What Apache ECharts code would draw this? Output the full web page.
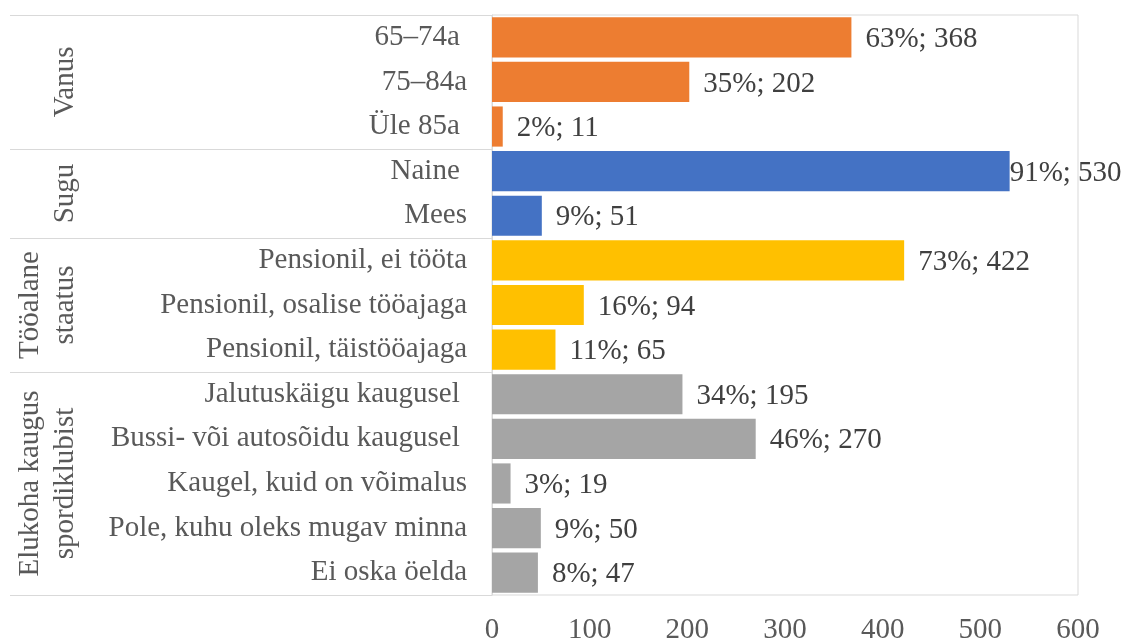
<!DOCTYPE html>
<html>
<head>
<meta charset="utf-8">
<script src="https://cdn.jsdelivr.net/npm/echarts@6/dist/echarts.min.js"></script>
<style>
  html, body { margin: 0; padding: 0; background: #ffffff; }
  #main { width: 1126px; height: 642px; }
</style>
</head>
<body>
<div id="main"></div>
<script>
// ---- Data ----
const categories = [
  '65–74a ', '75–84a', 'Üle 85a ',
  'Naine ', 'Mees',
  'Pensionil, ei tööta', 'Pensionil, osalise tööajaga', 'Pensionil, täistööajaga',
  'Jalutuskäigu kaugusel ', 'Bussi- või autosõidu kaugusel ', 'Kaugel, kuid on võimalus',
  'Pole, kuhu oleks mugav minna', 'Ei oska öelda'
];
const values   = [368, 202, 11, 530, 51, 422, 94, 65, 195, 270, 19, 50, 47];
const percents = [63, 35, 2, 91, 9, 73, 16, 11, 34, 46, 3, 9, 8];
const groupNames  = ['Vanus', 'Sugu', 'Tööalane\nstaatus', 'Elukoha kaugus\nspordiklubist'];
const groupSizes  = [3, 2, 3, 5];
const groupColors = ['#ED7D31', '#4472C4', '#FFC000', '#A5A5A5'];
const xTicks = [0, 100, 200, 300, 400, 500, 600];

// ---- Build ----
const FONT = 'Liberation Serif';
const catColors = [];
groupSizes.forEach((n, g) => { for (let i = 0; i < n; i++) catColors.push(groupColors[g]); });

const items = values.map((v, i) => {
  const it = { value: v, itemStyle: { color: catColors[i] } };
  if (i === 3) it.label = { distance: 0 };
  return it;
});

const chart = echarts.init(document.getElementById('main'), null, { renderer: 'canvas' });

const option = {
  animation: false,
  backgroundColor: '#ffffff',
  grid: {
    left: 492, right: 48, top: 15, bottom: 47,
    outerBoundsMode: 'none', containLabel: false,
    show: true, borderColor: '#d9d9d9', borderWidth: 1
  },
  xAxis: {
    type: 'value', min: xTicks[0], max: xTicks[xTicks.length - 1], interval: xTicks[1] - xTicks[0],
    axisLine: { show: false }, axisTick: { show: false }, splitLine: { show: false },
    axisLabel: { fontFamily: FONT, fontSize: 29, color: '#595959', margin: 21 }
  },
  yAxis: {
    type: 'category', inverse: true, data: categories,
    axisLine: { show: true, lineStyle: { color: '#d9d9d9', width: 1 } },
    axisTick: { show: false },
    axisLabel: { fontFamily: FONT, fontSize: 29, color: '#595959', margin: 25, padding: [4, 0, 0, 0] }
  },
  series: [{
    type: 'bar',
    data: items,
    barCategoryGap: '10%',
    label: {
      show: true, position: 'right', distance: 14, offset: [0, 2],
      fontFamily: FONT, fontSize: 29, color: '#404040',
      formatter: p => percents[p.dataIndex] + '%; ' + p.value
    }
  }]
};
chart.setOption(option);

// ---- Group separators and labels, positioned through the axes ----
const c0 = chart.convertToPixel({ yAxisIndex: 0 }, 0);
const c1 = chart.convertToPixel({ yAxisIndex: 0 }, 1);
const band = c1 - c0;
const xAxis0 = chart.convertToPixel({ xAxisIndex: 0 }, 0);
const graphics = [];
const boundary = idx => idx < categories.length
  ? chart.convertToPixel({ yAxisIndex: 0 }, idx) - band / 2
  : chart.convertToPixel({ yAxisIndex: 0 }, categories.length - 1) + band / 2;

const bounds = [0];
groupSizes.forEach(n => bounds.push(bounds[bounds.length - 1] + n));
bounds.forEach(b => {
  const y = Math.round(boundary(b)) + 0.5;
  graphics.push({
    type: 'line', silent: true,
    shape: { x1: 10, y1: y, x2: xAxis0, y2: y },
    style: { stroke: '#d9d9d9', lineWidth: 1 }
  });
});
groupNames.forEach((name, g) => {
  const yTop = boundary(bounds[g]);
  const yBot = boundary(bounds[g + 1]);
  const twoLine = name.indexOf('\n') >= 0;
  graphics.push({
    type: 'text', silent: true,
    x: twoLine ? 48 : 65, y: (yTop + yBot) / 2,
    rotation: Math.PI / 2,
    style: {
      text: name, fontFamily: FONT, fontSize: 29, fill: '#595959',
      align: 'center', verticalAlign: 'middle', lineHeight: 35
    }
  });
});
chart.setOption({ graphic: graphics });
</script>
</body>
</html>
